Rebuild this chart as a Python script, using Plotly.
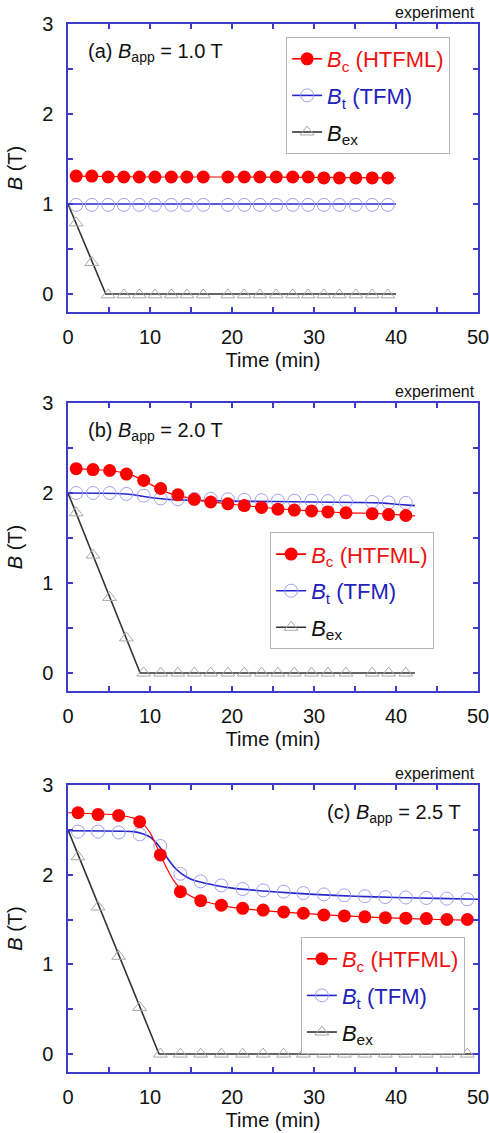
import plotly.graph_objects as go

# ---------------- data ----------------
# (a) B_app = 1.0 T
xa_exp = [1.0, 2.9, 4.9, 6.8, 8.7, 10.6, 12.6, 14.5, 16.5, 19.5, 21.5, 23.4, 25.4, 27.4, 29.3, 31.2, 33.1, 35.1, 37.1, 39.0]
bc_a_exp = [1.31, 1.31, 1.30, 1.30, 1.30, 1.30, 1.30, 1.30, 1.30, 1.30, 1.30, 1.30, 1.30, 1.30, 1.30, 1.29, 1.29, 1.29, 1.29, 1.29]
bt_a_exp = [0.99] * 20
bex_a_exp = [0.79, 0.35, -0.01, -0.01, -0.01, -0.01, -0.01, -0.01, -0.01, -0.01, -0.01, -0.01, -0.01, -0.01, -0.01, -0.01, -0.01, -0.01, -0.01, -0.01]
bc_a_mx = [0.5, 10, 20, 30, 40]
bc_a_my = [1.31, 1.30, 1.30, 1.295, 1.29]
bt_a_mx = [0, 40]
bt_a_my = [1.0, 1.0]
bex_a_mx = [0, 4.6, 40]
bex_a_my = [1.0, 0.0, 0.0]

# (b) B_app = 2.0 T
xb_exp = [1.0, 3.05, 5.08, 7.12, 9.23, 11.3, 13.4, 15.4, 17.4, 19.5, 21.5, 23.6, 25.6, 27.6, 29.7, 31.7, 33.9, 37.1, 39.1, 41.2]
bc_b_exp = [2.27, 2.26, 2.25, 2.21, 2.14, 2.05, 1.98, 1.93, 1.90, 1.88, 1.86, 1.84, 1.82, 1.81, 1.80, 1.79, 1.78, 1.77, 1.76, 1.75]
bt_b_exp = [2.0, 2.0, 2.0, 1.99, 1.97, 1.94, 1.93, 1.935, 1.935, 1.93, 1.925, 1.92, 1.915, 1.915, 1.915, 1.91, 1.905, 1.90, 1.895, 1.89]
bex_b_exp = [1.78, 1.31, 0.84, 0.39, 0.0, 0.0, 0.0, 0.0, 0.0, 0.0, 0.0, 0.0, 0.0, 0.0, 0.0, 0.0, 0.0, 0.0, 0.0, 0.0]
bc_b_mx = [1.0, 3.0, 5.0, 7.0, 8.0, 9.0, 10.0, 11.0, 12.0, 13.0, 14.0, 16.0, 18.0, 20.0, 25.0, 30.0, 34.0, 37.0, 40.0, 42.3]
bc_b_my = [2.27, 2.26, 2.25, 2.22, 2.19, 2.15, 2.10, 2.05, 2.01, 1.98, 1.96, 1.92, 1.895, 1.875, 1.83, 1.80, 1.78, 1.775, 1.76, 1.745]
bt_b_mx = [0, 6, 8, 10, 12, 15, 20, 25, 30, 35, 38, 40, 42.3]
bt_b_my = [2.0, 1.995, 1.98, 1.95, 1.93, 1.92, 1.91, 1.905, 1.90, 1.895, 1.89, 1.875, 1.86]
bex_b_mx = [0, 8.8, 42.3]
bex_b_my = [2.0, 0.0, 0.0]

# (c) B_app = 2.5 T
xc_exp = [1.22, 3.66, 6.18, 8.74, 11.26, 13.7, 16.18, 18.7, 21.3, 23.8, 26.3, 28.7, 31.2, 33.7, 36.2, 38.7, 41.2, 43.7, 46.2, 48.7]
bc_c_exp = [2.69, 2.67, 2.66, 2.59, 2.22, 1.81, 1.71, 1.66, 1.625, 1.605, 1.585, 1.57, 1.55, 1.54, 1.53, 1.52, 1.515, 1.51, 1.50, 1.50]
bt_c_exp = [2.48, 2.48, 2.47, 2.45, 2.32, 2.01, 1.925, 1.88, 1.84, 1.825, 1.81, 1.795, 1.78, 1.77, 1.76, 1.75, 1.745, 1.74, 1.733, 1.725]
bex_c_exp = [2.20, 1.64, 1.09, 0.52, 0.0, 0.0, 0.0, 0.0, 0.0, 0.0, 0.0, 0.0, 0.0, 0.0, 0.0, 0.0, 0.0, 0.0, 0.0, 0.0]
bc_c_mx = [0, 6, 8, 9, 10, 11, 12, 13, 14, 15, 16, 18, 20, 25, 30, 35, 40, 45, 50]
bc_c_my = [2.69, 2.665, 2.63, 2.58, 2.47, 2.28, 2.08, 1.92, 1.82, 1.76, 1.72, 1.67, 1.635, 1.59, 1.56, 1.535, 1.515, 1.50, 1.49]
bt_c_mx = [0, 8, 9, 10, 11, 12, 13, 14, 15, 16, 18, 20, 25, 30, 35, 40, 45, 50]
bt_c_my = [2.49, 2.48, 2.46, 2.42, 2.33, 2.20, 2.08, 2.0, 1.95, 1.92, 1.88, 1.85, 1.81, 1.78, 1.76, 1.745, 1.735, 1.725]
bex_c_mx = [0, 11.1, 50]
bex_c_my = [2.5, 0.0, 0.0]

panel_labels = ["(a) <i>B</i><sub>app</sub> = 1.0 T",
                "(b) <i>B</i><sub>app</sub> = 2.0 T",
                "(c) <i>B</i><sub>app</sub> = 2.5 T"]
legend_names = ['<span style="color:#ee1111"><i>B</i><sub>c</sub> (HTFML)</span>',
                '<span style="color:#2222bb"><i>B</i><sub>t</sub> (TFM)</span>',
                '<span style="color:#111111"><i>B</i><sub>ex</sub></span>']
x_ticks = [0, 10, 20, 30, 40, 50]
y_ticks = [0, 1, 2, 3]

# ---------------- styles ----------------
FONT = "Liberation Sans, Arial, sans-serif"
FRAME = "#3c3cc8"
RED = "#ff0000"
BLUE_LINE = "#2525cc"
BLUE_MK = "#a0a0f0"
BLACK = "#333333"
GRAY_MK = "#a8a8a8"

panels = [
    (xa_exp, bc_a_exp, bt_a_exp, bex_a_exp, bc_a_mx, bc_a_my, bt_a_mx, bt_a_my, bex_a_mx, bex_a_my),
    (xb_exp, bc_b_exp, bt_b_exp, bex_b_exp, bc_b_mx, bc_b_my, bt_b_mx, bt_b_my, bex_b_mx, bex_b_my),
    (xc_exp, bc_c_exp, bt_c_exp, bex_c_exp, bc_c_mx, bc_c_my, bt_c_mx, bt_c_my, bex_c_mx, bex_c_my),
]
legend_ids = ["legend", "legend2", "legend3"]

fig = go.Figure()
for i, p in enumerate(panels):
    xe, bce, bte, bexe, bcmx, bcmy, btmx, btmy, bexmx, bexmy = p
    xr = "x" if i == 0 else f"x{i+1}"
    yr = "y" if i == 0 else f"y{i+1}"
    lg = legend_ids[i]
    mk_c = dict(symbol="circle", size=13, color=RED, line=dict(width=0))
    mk_t = dict(symbol="circle-open", size=13, color=BLUE_MK, line=dict(width=1))
    mk_e = dict(symbol="triangle-up-open", size=12, color=GRAY_MK, line=dict(width=1))
    # model lines
    fig.add_trace(go.Scatter(x=bexmx, y=bexmy, mode="lines", line=dict(color=BLACK, width=1.6),
                             xaxis=xr, yaxis=yr, showlegend=False))
    fig.add_trace(go.Scatter(x=btmx, y=btmy, mode="lines", line=dict(color=BLUE_LINE, width=1.6, shape="spline", smoothing=0.6),
                             xaxis=xr, yaxis=yr, showlegend=False))
    fig.add_trace(go.Scatter(x=bcmx, y=bcmy, mode="lines", line=dict(color=RED, width=1.2, shape="spline", smoothing=0.6),
                             xaxis=xr, yaxis=yr, showlegend=False))
    # experimental markers
    fig.add_trace(go.Scatter(x=xe, y=bexe, mode="markers", marker=mk_e, xaxis=xr, yaxis=yr, showlegend=False))
    fig.add_trace(go.Scatter(x=xe, y=bte, mode="markers", marker=mk_t, xaxis=xr, yaxis=yr, showlegend=False))
    fig.add_trace(go.Scatter(x=xe, y=bce, mode="markers", marker=mk_c, xaxis=xr, yaxis=yr, showlegend=False))
    # legend entries
    for name, col, mk, g in [(legend_names[0], RED, mk_c, "c"), (legend_names[1], BLUE_LINE, mk_t, "t"),
                             (legend_names[2], BLACK, mk_e, "e")]:
        fig.add_trace(go.Scatter(x=[None], y=[None], mode="lines+markers", name=name,
                                 line=dict(color=col, width=1.6), marker=mk, xaxis=xr, yaxis=yr,
                                 legend=lg, legendgroup=f"{g}{i}", showlegend=True))

domains = [[0.7252, 1.0], [0.3635, 0.6384], [0.0, 0.2739]]
axis_common = dict(showline=True, linecolor=FRAME, linewidth=1.5, mirror="ticks",
                   ticks="inside", ticklen=5, tickwidth=1.5, tickcolor=FRAME,
                   showgrid=False, zeroline=False, automargin=False, ticklabeloverflow="allow",
                   tickfont=dict(family=FONT, size=20, color="#111111"))
layout = dict(width=489, height=1133, margin=dict(l=68, r=11, t=24, b=61),
              paper_bgcolor="white", plot_bgcolor="white",
              font=dict(family=FONT, size=20, color="#111111"))
for i in range(3):
    sx = "" if i == 0 else str(i + 1)
    layout[f"xaxis{sx}"] = dict(axis_common, domain=[0, 1], anchor=f"y{sx}", range=[0, 50],
                                tickvals=x_ticks, ticktext=[str(v) for v in x_ticks],
                                minor=dict(dtick=5, tick0=0, ticks="inside", ticklen=5, tickcolor=FRAME, tickwidth=1.5),
                                ticklabelstandoff=6,
                                title=dict(text="Time (min)", font=dict(family=FONT, size=20), standoff=6))
    layout[f"yaxis{sx}"] = dict(axis_common, domain=domains[i], anchor=f"x{sx}", range=[-0.2, 3],
                                tickvals=y_ticks, ticktext=[str(v) for v in y_ticks],
                                minor=dict(dtick=0.5, tick0=0, ticks="inside", ticklen=5, tickcolor=FRAME, tickwidth=1.5),
                                ticklabelstandoff=9,
                                title=dict(text="<i>B</i> (T)", font=dict(family=FONT, size=20), standoff=14))

leg_pos = [(0.532, 0.9876), (0.493, 0.515), (0.568, 0.1288)]
for i, lg in enumerate(legend_ids):
    layout[lg] = dict(x=leg_pos[i][0], y=leg_pos[i][1], xanchor="left", yanchor="top",
                      bgcolor="white", bordercolor="#b5b5b5", borderwidth=1,
                      font=dict(family=FONT, size=22), tracegroupgap=5, itemwidth=30)

annotations = []
ann_pos = [(0.044, 0.90, "left"), (0.044, 0.90, "left"), (0.963, 0.902, "right")]
for i in range(3):
    sx = "" if i == 0 else str(i + 1)
    ax, ay, anc = ann_pos[i]
    annotations.append(dict(text=panel_labels[i], xref=f"x{sx} domain", yref=f"y{sx} domain",
                            x=ax, y=ay, xanchor=anc, yanchor="middle", showarrow=False,
                            font=dict(family=FONT, size=20, color="#111111")))
    annotations.append(dict(text="experiment", xref=f"x{sx} domain", yref=f"y{sx} domain",
                            x=0.997, y=1.0, xanchor="right", yanchor="bottom", yshift=1, showarrow=False,
                            font=dict(family=FONT, size=16, color="#111111")))
layout["annotations"] = annotations
fig.update_layout(**layout)
fig.write_html("out.html")
